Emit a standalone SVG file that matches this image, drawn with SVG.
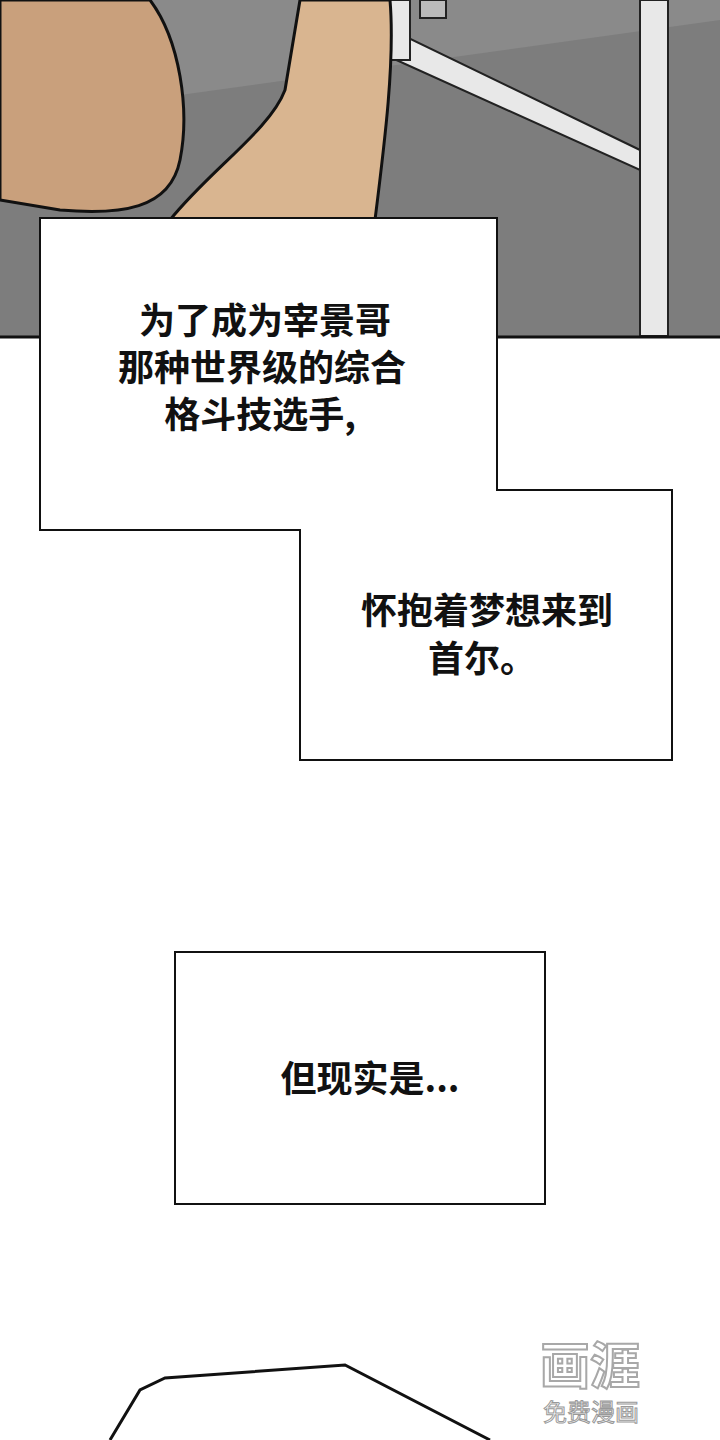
<svg xmlns="http://www.w3.org/2000/svg" width="720" height="1440" viewBox="0 0 720 1440">
<style>
.t{font-family:"Noto Sans CJK SC","Noto Sans",sans-serif;font-weight:bold;font-size:36px;fill:#111}
.b{fill:#fff;stroke:#111;stroke-width:2}
</style>
<rect width="720" height="1440" fill="#fff"/>
<g id="scene">
<rect x="0" y="0" width="720" height="336" fill="#7d7d7d"/>
<path d="M0,0 L720,0 L720,20 L0,120 Z" fill="#8a8a8a"/>
<path d="M330,0 L640,150 L640,170 L330,30 Z" fill="#e8e8e8" stroke="#222" stroke-width="2"/>
<path d="M390,0 L410,0 L410,60 L390,60 Z" fill="#e8e8e8" stroke="#222" stroke-width="2"/>
<path d="M640,0 L668,0 L668,336 L640,336 Z" fill="#e8e8e8" stroke="#222" stroke-width="2"/>
<rect x="420" y="0" width="26" height="18" fill="#bbb" stroke="#222" stroke-width="2"/>
<path d="M0,0 L150,0 C180,40 190,110 180,160 C170,210 120,215 60,210 L0,200 Z" fill="#c9a07c" stroke="#111" stroke-width="3"/>
<path d="M300,0 L390,0 C395,60 385,140 375,220 L170,220 C210,170 270,130 285,90 Z" fill="#d9b590" stroke="#111" stroke-width="3"/>
<line x1="0" y1="337" x2="720" y2="337" stroke="#111" stroke-width="3"/>
</g>
<g id="box1">
<path class="b" d="M40,218 L497,218 L497,490 L672,490 L672,760 L300,760 L300,530 L40,530 Z"/>
<text class="t" text-anchor="middle" x="265" y="334">为了成为宰景哥</text>
<text class="t" text-anchor="middle" x="262" y="381">那种世界级的综合</text>
<text class="t" text-anchor="middle" x="260" y="428">格斗技选手,</text>
<text class="t" text-anchor="middle" x="487" y="624">怀抱着梦想来到</text>
<text class="t" x="428" y="672">首尔。</text>
</g>
<g id="box2">
<rect class="b" x="175" y="952" width="370" height="252"/>
<text class="t" text-anchor="middle" x="370" y="1092">但现实是...</text>
</g>
<g id="bottom">
<path d="M110,1440 L140,1390 L165,1378 L345,1365 L490,1440" fill="none" stroke="#111" stroke-width="3"/>
</g>
<g id="watermark" opacity="0.85">
<text x="540" y="1384" font-family="Noto Sans CJK SC,sans-serif" font-weight="bold" font-size="50" fill="#fff" stroke="#999" stroke-width="2">画涯</text>
<text x="543" y="1421" font-family="Noto Sans CJK SC,sans-serif" font-size="24" fill="#fff" stroke="#888" stroke-width="1">免费漫画</text>
</g>
</svg>
